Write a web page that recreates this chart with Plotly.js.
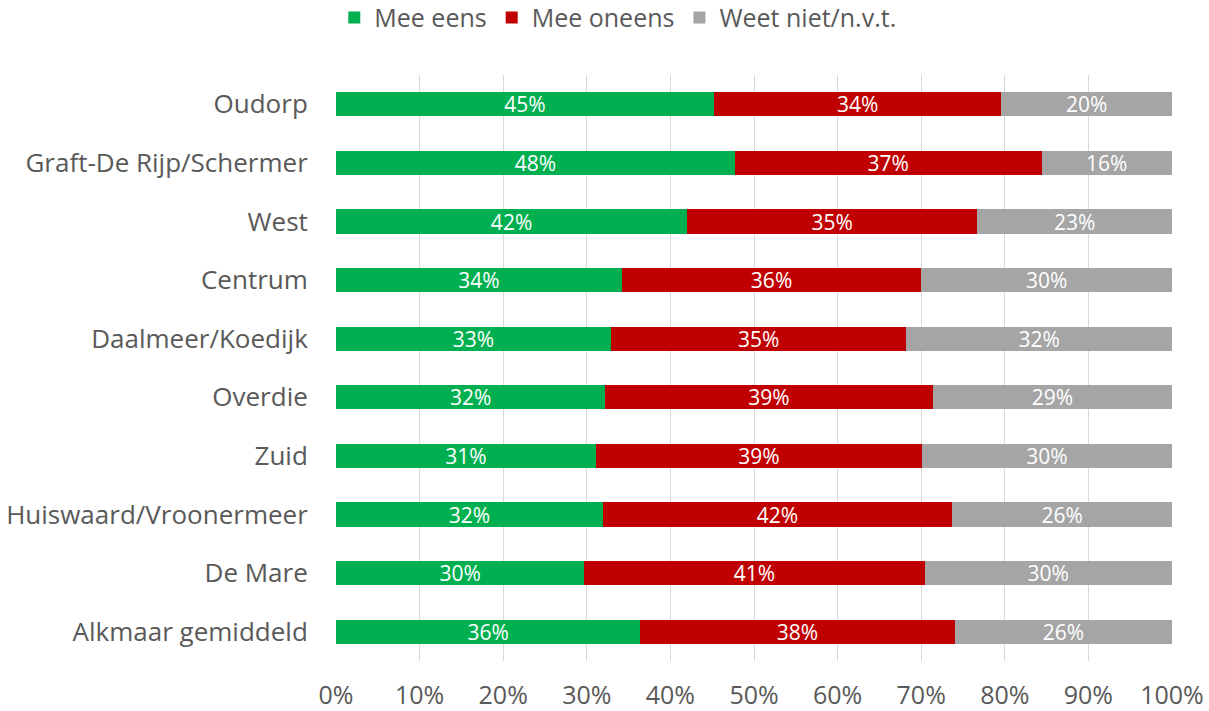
<!DOCTYPE html>
<html>
<head>
<meta charset="utf-8">
<script src="https://cdn.plot.ly/plotly-3.0.1.min.js"></script>
<style>html,body{margin:0;padding:0;background:#fff;}#chart{width:1209px;height:711px;}</style>
</head>
<body>
<div id="chart"></div>
<script>
const categories = ["Oudorp","Graft-De Rijp/Schermer","West","Centrum","Daalmeer/Koedijk","Overdie","Zuid","Huiswaard/Vroonermeer","De Mare","Alkmaar gemiddeld"];
const meeEens   = [45.2, 47.7, 42.0, 34.2, 32.9, 32.2, 31.1, 31.9, 29.7, 36.4];
const meeOneens = [34.4, 36.7, 34.7, 35.8, 35.3, 39.2, 39.0, 41.8, 40.7, 37.6];
const weetNiet  = [20.4, 15.6, 23.3, 30.0, 31.8, 28.6, 29.9, 26.3, 29.6, 26.0];
const seriesNames = ["Mee eens","Mee oneens","Weet niet/n.v.t."];
const xTickVals = [0,10,20,30,40,50,60,70,80,90,100];
const xTickText = ["0%","10%","20%","30%","40%","50%","60%","70%","80%","90%","100%"];

const colors = ["#00B050","#C00000","#A5A5A5"];
const FONT = "'Open Sans', sans-serif";
const data = [meeEens, meeOneens, weetNiet].map((vals,i)=>({
  type:'bar', orientation:'h', name:seriesNames[i],
  x:vals, y:categories,
  marker:{color:colors[i]},
  texttemplate:'%{x:.0f}%', textposition:'inside', insidetextanchor:'middle',
  constraintext:'none',
  textfont:{color:'#ffffff', size:21, family:FONT},
  hoverinfo:'skip'
}));

const layout = {
  width:1209, height:711,
  barmode:'stack', bargap:0.59,
  margin:{l:336, r:37, t:75, b:50},
  paper_bgcolor:'#ffffff', plot_bgcolor:'#ffffff',
  font:{family:FONT, color:'#595959', size:26},
  showlegend:true,
  legend:{orientation:'h', xref:'container', yref:'container', x:0.511, xanchor:'center', y:0.975, yanchor:'middle',
          font:{size:25, color:'#595959', family:FONT}, traceorder:'normal'},
  xaxis:{range:[0,100], tickvals:xTickVals, ticktext:xTickText, showgrid:true, gridcolor:'#D9D9D9', gridwidth:1,
         zeroline:false, showline:false, ticks:'outside', ticklen:12, tickcolor:'rgba(0,0,0,0)',
         tickfont:{size:25, color:'#595959', family:FONT}, fixedrange:true},
  yaxis:{type:'category', autorange:'reversed', showgrid:false, zeroline:false, showline:false,
         ticks:'outside', ticklen:22, tickcolor:'rgba(0,0,0,0)',
         tickfont:{size:26, color:'#595959', family:FONT}, fixedrange:true}
};
Plotly.newPlot('chart', data, layout, {displayModeBar:false, staticPlot:true});
</script>
</body>
</html>
